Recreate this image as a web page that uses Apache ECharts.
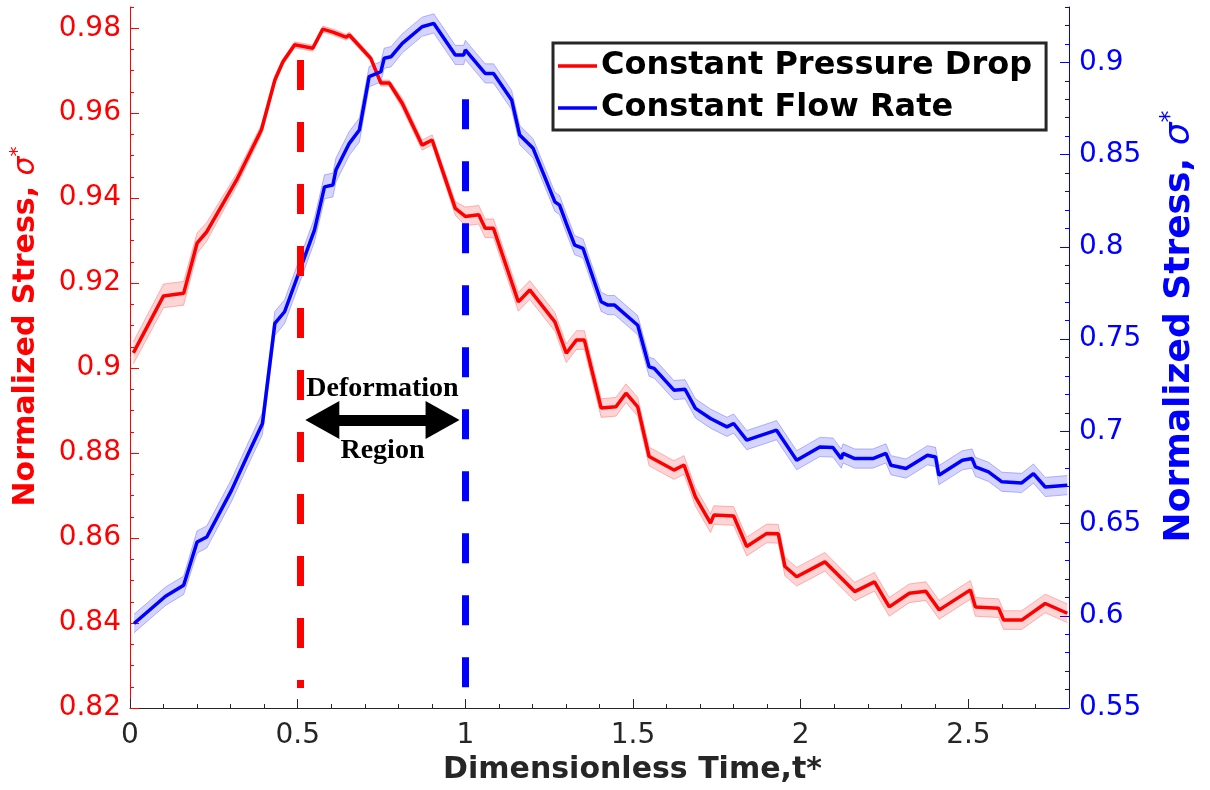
<!DOCTYPE html>
<html>
<head>
<meta charset="utf-8">
<script src="https://cdn.jsdelivr.net/npm/echarts@6/dist/echarts.min.js"></script>
<style>
  html, body { margin: 0; padding: 0; background: #fff; }
  #chart { width: 1210px; height: 790px; }
</style>
</head>
<body>
<div id="chart"></div>
<script>
// ---- Data ----
const redT = [0.01,0.10,0.16,0.20,0.229,0.318,0.392,0.432,0.456,0.491,0.545,0.575,0.605,0.644,0.654,0.718,0.748,0.773,0.812,0.871,0.901,0.970,1.000,1.04,1.059,1.084,1.158,1.192,1.267,1.301,1.331,1.355,1.405,1.449,1.479,1.514,1.548,1.622,1.652,1.686,1.731,1.741,1.80,1.839,1.899,1.933,1.953,1.988,2.072,2.161,2.22,2.264,2.324,2.373,2.413,2.506,2.521,2.59,2.605,2.659,2.729,2.795];
const redV = [0.9036,0.917,0.9176,0.9294,0.9321,0.9443,0.9561,0.9678,0.9721,0.9761,0.9753,0.9798,0.9791,0.9779,0.9784,0.9729,0.9671,0.9671,0.9623,0.9525,0.9537,0.9376,0.9357,0.9361,0.9329,0.9329,0.9156,0.9184,0.9109,0.9035,0.9066,0.9066,0.8906,0.8909,0.8941,0.8909,0.8792,0.8760,0.8772,0.8697,0.8635,0.8654,0.8652,0.8580,0.8611,0.8610,0.8533,0.8509,0.8544,0.8474,0.8497,0.8438,0.8470,0.8475,0.8431,0.8478,0.8438,0.8435,0.8407,0.8407,0.8446,0.8423];
const redErr = [0.0026,0.0028,0.0028,0.0024,0.0022,0.0015,0.0012,0.0010,0.0007,0.0007,0.0007,0.0007,0.0007,0.0007,0.0007,0.0007,0.0007,0.0007,0.0012,0.0012,0.0012,0.0016,0.0022,0.0022,0.0022,0.0022,0.0022,0.0022,0.0022,0.0022,0.0022,0.0022,0.0022,0.0022,0.0022,0.0022,0.0022,0.0022,0.0022,0.0022,0.0022,0.0022,0.0022,0.0022,0.0022,0.0022,0.0022,0.0022,0.0022,0.0022,0.0022,0.0022,0.0022,0.0022,0.0022,0.0022,0.0022,0.0022,0.0022,0.0022,0.0022,0.0022];

const blueT = [0.012,0.106,0.160,0.20,0.229,0.303,0.353,0.395,0.432,0.461,0.55,0.58,0.605,0.614,0.654,0.684,0.713,0.748,0.758,0.778,0.812,0.871,0.906,0.970,0.995,1.0,1.059,1.084,1.138,1.162,1.202,1.267,1.281,1.301,1.326,1.351,1.405,1.425,1.445,1.514,1.548,1.563,1.622,1.655,1.686,1.731,1.78,1.80,1.839,1.928,1.988,2.057,2.096,2.121,2.126,2.161,2.215,2.254,2.269,2.314,2.378,2.402,2.412,2.482,2.511,2.521,2.56,2.60,2.659,2.694,2.729,2.795];
const blueV = [0.5958,0.6106,0.6165,0.6400,0.6427,0.6681,0.6880,0.7042,0.7585,0.7648,0.8091,0.8325,0.8335,0.8416,0.8561,0.8633,0.8922,0.8949,0.9022,0.9030,0.9103,0.9193,0.9211,0.9040,0.9040,0.9067,0.8940,0.8940,0.8796,0.8606,0.8534,0.8244,0.8226,0.8127,0.8009,0.7991,0.7702,0.7684,0.7684,0.7575,0.7349,0.7341,0.7223,0.7228,0.7124,0.7069,0.7024,0.7042,0.6952,0.7006,0.6843,0.6915,0.6912,0.6852,0.6880,0.6852,0.6852,0.6880,0.6816,0.6798,0.6870,0.6861,0.6762,0.6843,0.6852,0.6807,0.6780,0.6726,0.6720,0.6771,0.6698,0.6708];
const blueErr = [0.005,0.005,0.005,0.006,0.006,0.006,0.006,0.006,0.0065,0.0065,0.0065,0.0065,0.0065,0.0065,0.0065,0.0065,0.0055,0.0055,0.0055,0.0055,0.0052,0.0052,0.0052,0.0052,0.0052,0.0052,0.0052,0.0052,0.0052,0.0052,0.0052,0.0052,0.0052,0.0052,0.0052,0.0052,0.0052,0.0052,0.0052,0.0052,0.0052,0.0052,0.0052,0.0052,0.0052,0.0052,0.0052,0.0052,0.0052,0.0052,0.0052,0.0052,0.0052,0.0052,0.0052,0.0052,0.0052,0.0052,0.0052,0.0052,0.0052,0.0052,0.0052,0.0052,0.0052,0.0052,0.0052,0.0052,0.0052,0.0052,0.0052,0.0052];

const xTicks = [0, 0.5, 1, 1.5, 2, 2.5];
const leftTicks = [0.82, 0.84, 0.86, 0.88, 0.9, 0.92, 0.94, 0.96, 0.98];
const rightTicks = [0.55, 0.6, 0.65, 0.7, 0.75, 0.8, 0.85, 0.9];

const seriesNames = ['Constant Pressure Drop', 'Constant Flow Rate'];

// annotation positions (data coordinates)
const redMarkT = 0.508, redMarkTop = 0.9725, redMarkBottom = 0.8247;
const blueMarkT = 1.0, blueMarkBottom = 0.5612, blueMarkTop = 0.8828;
const arrowY = 0.8878, arrowFrom = 0.5735, arrowTo = 0.932, labelT = 0.7528;

// ---- Build ----
const X_MIN = 0, X_MAX = 2.8, L_MIN = 0.82, L_MAX = 0.985, R_MIN = 0.55, R_MAX = 0.93;
const xMinor = [], lMinor = [], rMinor = [];
for (let i = 0; i <= 28; i++) xMinor.push(+(i * 0.1).toFixed(2));
for (let i = 0; i <= 33; i++) lMinor.push(+(L_MIN + i * 0.005).toFixed(3));
for (let i = 0; i <= 38; i++) rMinor.push(+(R_MIN + i * 0.01).toFixed(2));

const zip = (t, v) => t.map((x, i) => [x, v[i]]);
const bandData = (t, v, e) => t.map((x, i) => [x, v[i] - e[i], v[i] + e[i]]);

const FONT = 'DejaVu Sans';
const RED = '#ff0000', BLUE = '#0000ff', DARK = '#262626';

// Shaded band drawn as one polygon through the axis scale (api.coord)
function bandRenderer(fill, edge) {
  return function (params, api) {
    if (params.dataIndex !== 0) return null;
    const n = params.dataInsideLength !== undefined ? null : null;
    const data = params.context.__band;
    const upper = [], lower = [];
    for (let i = 0; i < data.length; i++) {
      upper.push(api.coord([data[i][0], data[i][2]]));
      lower.push(api.coord([data[i][0], data[i][1]]));
    }
    const poly = upper.concat(lower.slice().reverse());
    const cs = params.coordSys;
    return {
      type: 'group',
      clipPath: { type: 'rect', shape: { x: cs.x, y: cs.y, width: cs.width, height: cs.height } },
      children: [
        { type: 'polygon', shape: { points: poly }, style: { fill: fill, stroke: null }, silent: true },
        { type: 'polyline', shape: { points: upper }, style: { fill: null, stroke: edge, lineWidth: 1 }, silent: true },
        { type: 'polyline', shape: { points: lower }, style: { fill: null, stroke: edge, lineWidth: 1 }, silent: true }
      ]
    };
  };
}
function makeBandSeries(name, yIdx, data, fill, edge) {
  const r = bandRenderer(fill, edge);
  return {
    name: name, type: 'custom', xAxisIndex: 0, yAxisIndex: yIdx, silent: true, z: 1,
    data: data, encode: { x: 0, y: [1, 2] },
    renderItem: function (params, api) { params.context.__band = data; return r(params, api); }
  };
}

const chart = echarts.init(document.getElementById('chart'), null, { renderer: 'canvas' });

const option = {
  animation: false,
  backgroundColor: '#ffffff',
  grid: { left: 126, right: 141, top: 7, bottom: 82, containLabel: false },
  legend: {
    data: seriesNames,
    orient: 'vertical',
    left: 553, top: 43,
    icon: 'rect',
    itemWidth: 39, itemHeight: 3.5, itemGap: 6,
    padding: [5, 14, 4, 5],
    borderColor: DARK, borderWidth: 3,
    backgroundColor: '#ffffff',
    selectedMode: false,
    textStyle: { fontFamily: FONT, fontSize: 32, fontWeight: 'bold', color: '#000', lineHeight: 36, padding: [0, 0, 0, -1] }
  },
  xAxis: [
    {
      type: 'value', min: X_MIN, max: X_MAX, position: 'bottom',
      name: 'Dimensionless Time,t*', nameLocation: 'middle', nameGap: 47,
      nameTextStyle: { fontFamily: FONT, fontSize: 30, fontWeight: 'bold', color: DARK, padding: [0, 0, 0, 66] },
      axisLine: { show: true, onZero: false, lineStyle: { color: DARK, width: 1 } },
      axisTick: { show: true, inside: true, length: 9, customValues: xTicks, lineStyle: { color: DARK } },
      axisLabel: { show: true, customValues: xTicks, margin: 14, fontFamily: FONT, fontSize: 28, color: DARK },
      splitLine: { show: false }
    },
    {
      type: 'value', min: X_MIN, max: X_MAX, position: 'bottom',
      axisLine: { show: false, onZero: false },
      axisTick: { show: true, inside: true, length: 4, customValues: xMinor, lineStyle: { color: DARK } },
      axisLabel: { show: false },
      splitLine: { show: false }
    }
  ],
  yAxis: [
    {
      type: 'value', min: L_MIN, max: L_MAX, position: 'left',
      name: '{a|Normalized Stress, }{b|σ}{c|*}', nameLocation: 'middle', nameGap: 86,
      nameTextStyle: {
        color: RED, padding: [0, 0, 0, 62],
        rich: {
          a: { fontFamily: FONT, fontSize: 30, fontWeight: 'bold', color: RED, lineHeight: 36 },
          b: { fontFamily: FONT, fontSize: 30, fontStyle: 'italic', color: RED, lineHeight: 36 },
          c: { fontFamily: FONT, fontSize: 20, color: RED, verticalAlign: 'top', lineHeight: 36 }
        }
      },
      axisLine: { show: true, onZero: false, lineStyle: { color: RED, width: 1 } },
      axisTick: { show: true, inside: true, length: 9, customValues: leftTicks, lineStyle: { color: RED } },
      axisLabel: { show: true, customValues: leftTicks, margin: 9, fontFamily: FONT, fontSize: 28, color: RED },
      splitLine: { show: false }
    },
    {
      type: 'value', min: R_MIN, max: R_MAX, position: 'right',
      name: '{a|Normalized Stress, }{b|σ}{c|*}', nameLocation: 'middle', nameGap: 90,
      nameTextStyle: {
        color: BLUE, padding: [0, 0, 0, 62],
        rich: {
          a: { fontFamily: FONT, fontSize: 36, fontWeight: 'bold', color: BLUE, lineHeight: 42 },
          b: { fontFamily: FONT, fontSize: 36, fontStyle: 'italic', color: BLUE, lineHeight: 42 },
          c: { fontFamily: FONT, fontSize: 24, color: BLUE, verticalAlign: 'top', lineHeight: 42 }
        }
      },
      axisLine: { show: true, onZero: false, lineStyle: { color: BLUE, width: 1 } },
      axisTick: { show: true, inside: true, length: 9, customValues: rightTicks, lineStyle: { color: BLUE } },
      axisLabel: { show: true, customValues: rightTicks, margin: 10, fontFamily: FONT, fontSize: 28, color: BLUE },
      splitLine: { show: false }
    },
    {
      type: 'value', min: L_MIN, max: L_MAX, position: 'left',
      axisLine: { show: false, onZero: false },
      axisTick: { show: true, inside: true, length: 4, customValues: lMinor, lineStyle: { color: RED } },
      axisLabel: { show: false }, splitLine: { show: false }
    },
    {
      type: 'value', min: R_MIN, max: R_MAX, position: 'right',
      axisLine: { show: false, onZero: false },
      axisTick: { show: true, inside: true, length: 4, customValues: rMinor, lineStyle: { color: BLUE } },
      axisLabel: { show: false }, splitLine: { show: false }
    }
  ],
  series: [
    makeBandSeries('Constant Flow Rate band', 1, bandData(blueT, blueV, blueErr), 'rgba(0,0,255,0.17)', 'rgba(60,60,255,0.35)'),
    makeBandSeries('Constant Pressure Drop band', 0, bandData(redT, redV, redErr), 'rgba(255,0,0,0.17)', 'rgba(255,60,60,0.35)'),
    {
      name: seriesNames[0], type: 'line', xAxisIndex: 0, yAxisIndex: 0,
      data: zip(redT, redV), symbol: 'none', z: 3,
      itemStyle: { color: RED },
      lineStyle: { width: 3.5, color: RED },
      markLine: {
        silent: true, animation: false, symbol: ['none', 'none'],
        label: { show: false },
        data: [
          [
            { coord: [redMarkT, redMarkTop], lineStyle: { color: RED, width: 7, type: [30, 32] } },
            { coord: [redMarkT, redMarkBottom] }
          ],
          [
            { coord: [arrowFrom, arrowY], symbol: 'triangle', symbolSize: [38, 34], lineStyle: { color: '#000', width: 11, type: 'solid' }, itemStyle: { color: '#000' } },
            { coord: [arrowTo, arrowY], symbol: 'triangle', symbolSize: [38, 34] }
          ]
        ]
      },
      markPoint: {
        silent: true, animation: false,
        data: [{
          coord: [labelT, arrowY], symbol: 'circle', symbolSize: 1,
          itemStyle: { color: 'rgba(0,0,0,0)' },
          label: {
            show: true, position: 'inside', formatter: 'Deformation\n\nRegion',
            fontFamily: 'Liberation Serif', fontWeight: 'bold', fontSize: 28, lineHeight: 31, color: '#000', align: 'center'
          }
        }]
      }
    },
    {
      name: seriesNames[1], type: 'line', xAxisIndex: 0, yAxisIndex: 1,
      data: zip(blueT, blueV), symbol: 'none', z: 3,
      itemStyle: { color: BLUE },
      lineStyle: { width: 3.5, color: BLUE },
      markLine: {
        silent: true, animation: false, symbol: ['none', 'none'],
        label: { show: false },
        data: [
          [
            { coord: [blueMarkT, blueMarkBottom], lineStyle: { color: BLUE, width: 7, type: [30, 32] } },
            { coord: [blueMarkT, blueMarkTop] }
          ]
        ]
      }
    }
  ]
};

chart.setOption(option);
</script>
</body>
</html>
